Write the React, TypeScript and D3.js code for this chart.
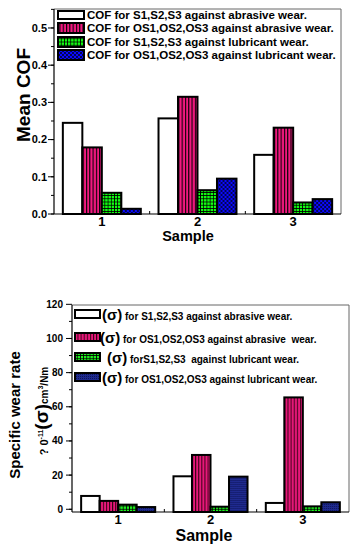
import React from 'react';
import * as d3 from 'd3';

// ---------- DATA ----------
const samples = ['1', '2', '3'];

// Top chart: Mean COF
const cofSAbrasive = [0.245, 0.257, 0.159];
const cofOSAbrasive = [0.179, 0.315, 0.232];
const cofSLubricant = [0.057, 0.064, 0.031];
const cofOSLubricant = [0.014, 0.095, 0.040];
const cofTicks = [0, 0.1, 0.2, 0.3, 0.4, 0.5];
const cofLegend = [
  'COF for S1,S2,S3 against abrasive wear.',
  'COF for OS1,OS2,OS3 against abrasive wear.',
  'COF for S1,S2,S3 against lubricant wear.',
  'COF for OS1,OS2,OS3 against lubricant wear.',
];

// Bottom chart: Specific wear rate
const wearSAbrasive = [7.8, 19.3, 3.7];
const wearOSAbrasive = [4.9, 31.8, 65.5];
const wearSLubricant = [2.7, 1.5, 1.7];
const wearOSLubricant = [1.3, 19.1, 4.1];
const wearTicks = [0, 20, 40, 60, 80, 100, 120];
const wearLegend = [
  ' for S1,S2,S3 against abrasive wear.',
  ' for OS1,OS2,OS3 against abrasive  wear.',
  ' forS1,S2,S3  against lubricant wear.',
  ' for OS1,OS2,OS3 against lubricant wear.',
];

const FONT = "'Liberation Sans', Arial, sans-serif";

type ChartProps = {
  id: string;
  series: number[][];
  left: number; right: number; top: number; bottom: number;
  yDomain: [number, number];
  yTicks: number[];
  yMinorStep: number;
  yFormat: (v: number) => string;
  yTickFont: number;
  yLabelX: number;
  innerPad: number;
  fills: string[];
  xLabelY: number;
  xLabelFont: number;
  titleX: number; titleY: number; titleFont: number;
};

function Bars(p: ChartProps) {
  const y = d3.scaleLinear().domain(p.yDomain).range([p.bottom, p.top]);
  const x0 = d3.scaleBand<string>().domain(samples).range([p.left, p.right])
    .paddingInner(p.innerPad).paddingOuter(p.innerPad / 2);
  const x1 = d3.scaleBand<number>().domain(d3.range(p.series.length)).range([0, x0.bandwidth()]);
  const minor = d3.range(p.yTicks[0], p.yDomain[1] + 1e-9, p.yMinorStep);
  return (
    <g>
      <path d={`M${p.left},${p.top}H${p.right}V${p.bottom}`} fill="none" stroke="#666" strokeWidth={1} />
      {samples.map((s, i) => (
        <g key={s} transform={`translate(${x0(s)},0)`}>
          {p.series.map((ser, k) => {
            const yt = y(ser[i]);
            return (
              <rect key={k} x={x1(k)!} y={yt} width={x1.bandwidth()} height={p.bottom - yt}
                fill={p.fills[k]} stroke="#000" strokeWidth={2} />
            );
          })}
        </g>
      ))}
      <line x1={p.left} x2={p.left} y1={p.top} y2={p.bottom} stroke="#000" strokeWidth={1.2} />
      <line x1={p.left} x2={p.right} y1={p.bottom} y2={p.bottom} stroke="#000" strokeWidth={1.2} />
      {minor.map((v, i) => (
        <line key={'m' + i} x1={p.left - 3} x2={p.left} y1={y(v)} y2={y(v)} stroke="#000" strokeWidth={1} />
      ))}
      {p.yTicks.map((v) => (
        <g key={v}>
          <line x1={p.left - 6} x2={p.left} y1={y(v)} y2={y(v)} stroke="#000" strokeWidth={1} />
          <text x={p.yLabelX} y={y(v)} dy="0.35em" textAnchor="end" fontFamily={FONT} fontWeight="bold"
            fontSize={p.yTickFont}>{p.yFormat(v)}</text>
        </g>
      ))}
      {samples.slice(1).map((s) => {
        const bx = x0(s)! - x0.step() * x0.paddingInner() / 2;
        return <line key={'b' + s} x1={bx} x2={bx} y1={p.bottom} y2={p.bottom - 3} stroke="#000" strokeWidth={1} />;
      })}
      {samples.map((s) => (
        <text key={'x' + s} x={x0(s)! + x0.bandwidth() / 2} y={p.xLabelY} textAnchor="middle" fontFamily={FONT}
          fontWeight="bold" fontSize={p.xLabelFont}>{s}</text>
      ))}
      <text x={p.titleX} y={p.titleY} textAnchor="middle" fontFamily={FONT} fontWeight="bold" fontSize={p.titleFont}>Sample</text>
    </g>
  );
}

export default function App() {
  const top: ChartProps = {
    id: 'cof',
    series: [cofSAbrasive, cofOSAbrasive, cofSLubricant, cofOSLubricant],
    left: 54, right: 341, top: 9, bottom: 214,
    yDomain: [0, 0.551],
    yTicks: cofTicks,
    yMinorStep: 0.05,
    yFormat: (v) => v.toFixed(1),
    yTickFont: 11,
    yLabelX: 47,
    innerPad: 0.185,
    fills: ['#fff', 'url(#pinkStripe)', 'url(#greenGrid)', 'url(#blueDots)'],
    xLabelY: 226,
    xLabelFont: 13,
    titleX: 188, titleY: 241, titleFont: 14.5,
  };
  const bottom: ChartProps = {
    id: 'wear',
    series: [wearSAbrasive, wearOSAbrasive, wearSLubricant, wearOSLubricant],
    left: 72, right: 349, top: 305, bottom: 512,
    yDomain: [-1.6, 119.6],
    yTicks: wearTicks,
    yMinorStep: 10,
    yFormat: (v) => String(v),
    yTickFont: 10,
    yLabelX: 63,
    innerPad: 0.198,
    fills: ['#fff', 'url(#pinkStripe2)', 'url(#greenGrid2)', 'url(#navyDots)'],
    xLabelY: 524,
    xLabelFont: 13,
    titleX: 204, titleY: 541, titleFont: 16,
  };
  const topSwatches = [
    { y: 11, h: 8 }, { y: 23, h: 10 }, { y: 37, h: 10 }, { y: 50, h: 10 },
  ];
  const botRows = [314, 337, 357, 377];
  const botSigmaX = [102, 100, 107, 102];
  return (
    <svg width={359} height={550} style={{ position: 'absolute', left: 0, top: 0, background: '#fff' }}>
      <defs>
        <pattern id="pinkStripe" width={3.3} height={4} patternUnits="userSpaceOnUse">
          <rect width={3.3} height={4} fill="#f2187f" />
          <rect x={0} width={1.1} height={4} fill="#000" />
        </pattern>
        <pattern id="greenGrid" width={3.2} height={3.2} patternUnits="userSpaceOnUse">
          <rect width={3.2} height={3.2} fill="#12ff12" />
          <rect x={0} width={0.8} height={3.2} fill="#000" />
          <rect y={0} width={3.2} height={0.8} fill="#000" />
        </pattern>
        <pattern id="blueDots" width={4} height={4} patternUnits="userSpaceOnUse">
          <rect width={4} height={4} fill="#0a0aff" />
          <circle cx={1} cy={1} r={0.9} fill="#000" />
          <circle cx={3} cy={3} r={0.9} fill="#000" />
        </pattern>
        <pattern id="pinkStripe2" width={3.1} height={4} patternUnits="userSpaceOnUse">
          <rect width={3.1} height={4} fill="#e8177a" />
          <rect x={0} width={1} height={4} fill="#300010" />
        </pattern>
        <pattern id="greenGrid2" width={3.2} height={3.2} patternUnits="userSpaceOnUse">
          <rect width={3.2} height={3.2} fill="#1ef01e" />
          <rect x={0} width={0.8} height={3.2} fill="#000" />
          <rect y={0} width={3.2} height={0.8} fill="#000" />
        </pattern>
        <pattern id="navyDots" width={2} height={2} patternUnits="userSpaceOnUse">
          <rect width={2} height={2} fill="#1f2a8e" />
          <rect width={1} height={1} fill="#0d145a" />
        </pattern>
      </defs>

      {/* ---------- Top chart ---------- */}
      <Bars {...top} />
      {cofLegend.map((t, i) => (
        <g key={t}>
          <rect x={58} y={topSwatches[i].y} width={26} height={topSwatches[i].h} fill={top.fills[i]} stroke="#000" strokeWidth={2} />
          <text x={87} y={topSwatches[i].y + topSwatches[i].h / 2} dy="0.36em" fontFamily={FONT} fontWeight="bold" fontSize={11.5}>{t}</text>
        </g>
      ))}
      <text transform="translate(30,95) rotate(-90)" textAnchor="middle" fontFamily={FONT} fontWeight="bold" fontSize={19}>Mean COF</text>

      {/* ---------- Bottom chart ---------- */}
      <Bars {...bottom} />
      {wearLegend.map((t, i) => (
        <g key={t}>
          <rect x={75} y={botRows[i] - 4} width={25} height={8} fill={bottom.fills[i]} stroke="#000" strokeWidth={2} />
          <text x={botSigmaX[i]} y={botRows[i]} dy="0.36em" fontFamily={FONT} fontWeight="bold" style={{ whiteSpace: 'pre' }}>
            <tspan fontSize={15}>(σ)</tspan>
            <tspan fontSize={10}>{t}</tspan>
          </text>
        </g>
      ))}
      <text transform="translate(20,415) rotate(-90)" textAnchor="middle" fontFamily={FONT} fontWeight="bold" fontSize={15}>Specific wear rate</text>
      <text transform="translate(48,411) rotate(-90)" textAnchor="middle" fontFamily={FONT} fontWeight="bold" fontSize={11}>
        <tspan>? 0</tspan>
        <tspan fontSize={7} dy={-5}>-11</tspan>
        <tspan fontSize={19} dy={5}>(σ)</tspan>
        <tspan fontSize={10}>cm</tspan>
        <tspan fontSize={7} dy={-5}>3</tspan>
        <tspan fontSize={10} dy={5}>/Nm</tspan>
      </text>
    </svg>
  );
}
